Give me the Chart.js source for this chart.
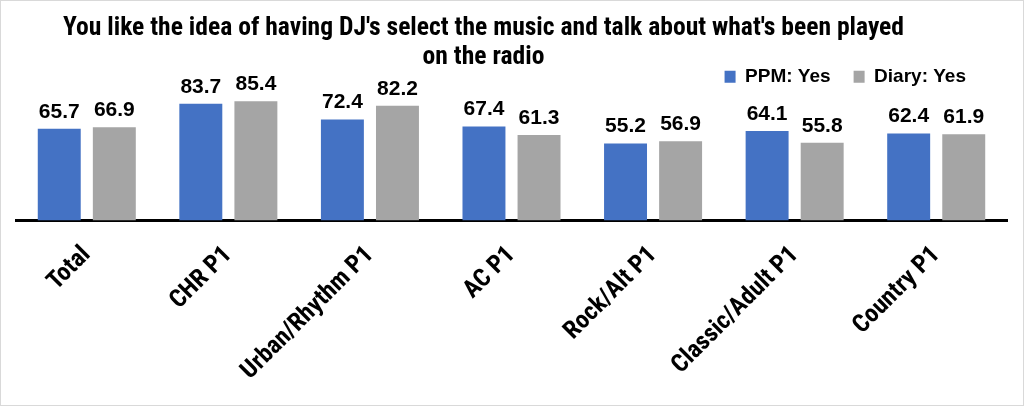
<!DOCTYPE html>
<html><head><meta charset="utf-8">
<script src="https://cdn.jsdelivr.net/npm/chart.js@4"></script>
<style>
html,body{margin:0;padding:0;background:#fff;}
#wrap{position:absolute;left:0;top:0;width:1022px;height:404px;border:1px solid #d9d9d9;}
</style></head><body>
<div id="wrap"><canvas id="c" width="1022" height="404"></canvas></div>
<script>
const categories = ["Total","CHR P1","Urban/Rhythm P1","AC P1","Rock/Alt P1","Classic/Adult P1","Country P1"];
const ppmYes = [65.7,83.7,72.4,67.4,55.2,64.1,62.4];
const diaryYes = [66.9,85.4,82.2,61.3,56.9,55.8,61.9];
const seriesNames = ["PPM: Yes","Diary: Yes"];
const titleLines = ["You like the idea of having DJ's select the music and talk about what's been played","on the radio"];

const NARROW = "'Roboto Condensed',sans-serif";
const SANS = "'Liberation Sans',Arial,sans-serif";

const valueLabels = {
  id:'valueLabels',
  afterDatasetsDraw(chart){
    const ctx = chart.ctx;
    ctx.save();
    ctx.font = "bold 21px " + SANS;
    ctx.fillStyle = "#000";
    ctx.textAlign = "center";
    ctx.textBaseline = "alphabetic";
    chart.data.datasets.forEach((ds,i)=>{
      chart.getDatasetMeta(i).data.forEach((bar,j)=>{
        ctx.fillText(ds.data[j].toFixed(1), bar.x, bar.y - 11);
      });
    });
    ctx.restore();
  }
};

const boxShift = {
  id:'boxShift',
  afterLayout(chart){
    if (chart.legend) { chart.legend.right -= 18; }
    if (chart.titleBlock) { chart.titleBlock.left -= 28; chart.titleBlock.right -= 28; }
  }
};

new Chart(document.getElementById('c'),{
  type:'bar',
  data:{
    labels:categories,
    datasets:[
      {label:seriesNames[0],data:ppmYes,backgroundColor:'#4472C4',categoryPercentage:0.778,barPercentage:0.78},
      {label:seriesNames[1],data:diaryYes,backgroundColor:'#A5A5A5',categoryPercentage:0.778,barPercentage:0.78}
    ]
  },
  options:{
    responsive:false,
    animation:false,
    devicePixelRatio:1,
    layout:{padding:{left:15,right:16,top:10,bottom:7}},
    plugins:{
      title:{display:true,text:titleLines,color:'#000',font:{family:NARROW,size:25.6,weight:'bold',lineHeight:1.1},padding:{top:4,bottom:-27}},
      legend:{position:'top',align:'end',labels:{color:'#000',font:{family:SANS,size:19,weight:'bold'},boxWidth:11,boxHeight:12,padding:23}},
      tooltip:{enabled:false}
    },
    scales:{
      x:{
        grid:{display:false},
        border:{display:true,color:'#000',width:3},
        ticks:{color:'#000',font:{family:NARROW,size:25,weight:'bold'},minRotation:45,maxRotation:45,padding:12}
      },
      y:{display:false,min:0,max:89}
    }
  },
  plugins:[valueLabels,boxShift]
});
</script>
</body></html>
